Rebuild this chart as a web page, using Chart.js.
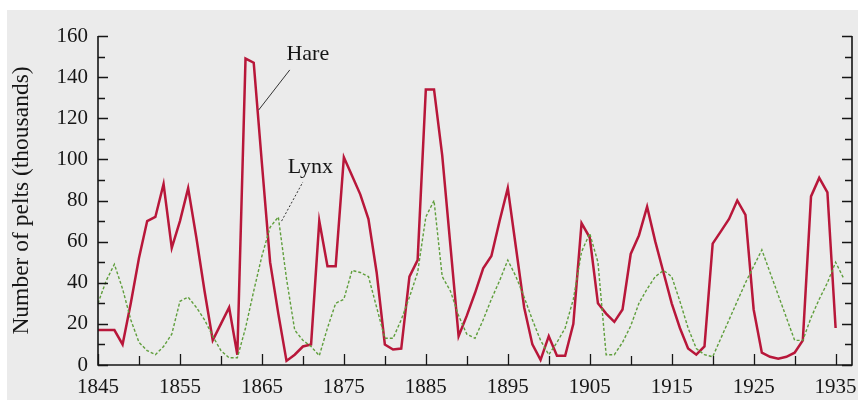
<!DOCTYPE html>
<html>
<head>
<meta charset="utf-8">
<script src="https://cdn.jsdelivr.net/npm/chart.js@4.4.0/dist/chart.umd.min.js"></script>
<style>
  html, body { margin: 0; padding: 0; background: #fff; }
  #wrap { position: absolute; left: 7px; top: 10px; width: 851px; height: 390px; background: #ebebeb; }
</style>
</head>
<body>
<div id="wrap"><canvas id="pelts"></canvas></div>
<script>
// Hudson's Bay Company pelt records, thousands
const years = [1845, 1846, 1847, 1848, 1849, 1850, 1851, 1852, 1853, 1854,
    1855, 1856, 1857, 1858, 1859, 1860, 1861, 1862, 1863, 1864,
    1865, 1866, 1867, 1868, 1869, 1870, 1871, 1872, 1873, 1874,
    1875, 1876, 1877, 1878, 1879, 1880, 1881, 1882, 1883, 1884,
    1885, 1886, 1887, 1888, 1889, 1890, 1891, 1892, 1893, 1894,
    1895, 1896, 1897, 1898, 1899, 1900, 1901, 1902, 1903, 1904,
    1905, 1906, 1907, 1908, 1909, 1910, 1911, 1912, 1913, 1914,
    1915, 1916, 1917, 1918, 1919, 1920, 1921, 1922, 1923, 1924,
    1925, 1926, 1927, 1928, 1929, 1930, 1931, 1932, 1933, 1934,
    1935, 1936];

const hare = [17, 17, 17, 10, 30, 52, 70, 72, 88, 57,
    70, 86, 62, 36, 12, 20, 28, 5, 149, 147,
    98, 50, 25, 2, 5, 9, 10, 70, 48, 48,
    101, 92, 83, 71, 45, 10, 7.5, 8, 43, 51,
    134, 134, 102, 58, 14, 24, 35, 47, 53, 70,
    86, 57, 28, 10, 2.5, 14, 4.5, 4.5, 20, 69,
    62, 30, 25, 21, 27, 54, 63, 77, 60, 45,
    30, 18, 8, 5, 9, 59, 65, 71, 80, 73,
    27, 6, 4, 3, 4, 6, 12, 82, 91, 84,
    18];

const lynx = [30, 41, 49, 37, 22, 11, 7, 5, 9, 15,
    31, 33, 28, 22, 14, 7, 3.5, 3.5, 18, 36,
    53, 67, 72, 42, 17, 12, 9, 4.5, 18, 30,
    32, 46, 45, 43, 28, 13, 13, 22, 33, 45,
    72, 80, 43, 36, 24, 15, 13, 22, 32, 41,
    51, 43, 33, 22, 12, 5, 11, 18, 32, 55,
    64, 50, 5, 5, 11, 19, 30, 37, 43, 46,
    43, 31, 18, 8, 5, 4, 13, 22, 31, 40,
    48, 56, 45, 34, 23, 12, 12, 23, 32, 40,
    50, 42];

const xTicks = [1845, 1855, 1865, 1875, 1885, 1895, 1905, 1915, 1925, 1935];
const yTicks = [0, 20, 40, 60, 80, 100, 120, 140, 160];

const serif = '"Liberation Serif", "Times New Roman", serif';
const ink = '#161616';

// axis frame with inward tick marks, as in the printed figure
const frame = {
    id: 'frame',
    afterDatasetsDraw(chart) {
        const { ctx, chartArea: a, scales: { x, y } } = chart;
        ctx.save();
        ctx.strokeStyle = ink;
        ctx.lineWidth = 1.6;
        ctx.beginPath();
        ctx.moveTo(a.left, a.top);
        ctx.lineTo(a.left, a.bottom);
        ctx.lineTo(a.right, a.bottom);
        ctx.lineTo(a.right, a.top);
        ctx.stroke();

        ctx.lineWidth = 1.3;
        ctx.beginPath();
        for (let v = 0; v <= 160; v += 10) {
            const py = Math.round(y.getPixelForValue(v)) + 0.5;
            const len = v % 20 === 0 ? 10 : 7;
            ctx.moveTo(a.left, py); ctx.lineTo(a.left + len, py);
            ctx.moveTo(a.right, py); ctx.lineTo(a.right - len, py);
        }
        for (let yr = 1845; yr <= 1935; yr += 5) {
            const px = Math.round(x.getPixelForValue(yr)) + 0.5;
            const len = (yr - 1845) % 10 === 0 ? 11 : 9;
            ctx.moveTo(px, a.bottom); ctx.lineTo(px, a.bottom - len);
        }
        ctx.stroke();
        ctx.restore();
    }
};

// series names with leader lines
const labels = {
    id: 'labels',
    afterDatasetsDraw(chart) {
        const { ctx, scales: { x, y } } = chart;
        ctx.save();
        ctx.strokeStyle = '#333';
        ctx.lineWidth = 1;
        ctx.beginPath();
        ctx.moveTo(x.getPixelForValue(1864.6), y.getPixelForValue(124));
        ctx.lineTo(x.getPixelForValue(1868.4), y.getPixelForValue(143.5));
        ctx.stroke();
        ctx.setLineDash([2, 2]);
        ctx.beginPath();
        ctx.moveTo(x.getPixelForValue(1867.4), y.getPixelForValue(70));
        ctx.lineTo(x.getPixelForValue(1870), y.getPixelForValue(89));
        ctx.stroke();
        ctx.setLineDash([]);

        ctx.fillStyle = ink;
        ctx.font = '22px ' + serif;
        ctx.textAlign = 'center';
        ctx.textBaseline = 'middle';
        ctx.fillText('Hare', x.getPixelForValue(1870.6), y.getPixelForValue(151));
        ctx.fillText('Lynx', x.getPixelForValue(1870.9), y.getPixelForValue(96));
        ctx.restore();
    }
};

const ctx = document.getElementById('pelts').getContext('2d');
new Chart(ctx, {
    type: 'line',
    data: {
        datasets: [
            {
                label: 'Lynx',
                data: years.map((yr, i) => ({ x: yr, y: lynx[i] })),
                borderColor: '#5f9e3c',
                borderWidth: 1.4,
                borderDash: [3, 2],
                pointRadius: 0,
                tension: 0,
                fill: false
            },
            {
                label: 'Hare',
                data: hare.map((v, i) => ({ x: years[i], y: v })),
                borderColor: '#b8173a',
                borderWidth: 2.5,
                pointRadius: 0,
                tension: 0,
                fill: false
            }
        ]
    },
    options: {
        responsive: true,
        maintainAspectRatio: false,
        animation: false,
        events: [],
        layout: { padding: { top: 26, right: 6, left: 0, bottom: 0 } },
        plugins: {
            legend: { display: false },
            tooltip: { enabled: false }
        },
        scales: {
            x: {
                type: 'linear',
                min: 1845,
                max: 1937,
                grid: { display: false, drawTicks: false },
                border: { display: false },
                afterBuildTicks: s => { s.ticks = xTicks.map(v => ({ value: v })); },
                afterFit: s => { s.height = 35; s.paddingLeft = 0; s.paddingRight = 0; },
                ticks: {
                    color: ink,
                    font: { family: serif, size: 21 },
                    padding: 10,
                    maxRotation: 0,
                    autoSkip: false,
                    callback: v => String(v)
                }
            },
            y: {
                min: 0,
                max: 160,
                grid: { display: false, drawTicks: false },
                border: { display: false },
                afterBuildTicks: s => { s.ticks = yTicks.map(v => ({ value: v })); },
                afterFit: s => { s.width = 91; s.paddingTop = 0; s.paddingBottom = 0; },
                ticks: {
                    color: ink,
                    font: { family: serif, size: 21 },
                    padding: 10
                },
                title: {
                    display: true,
                    text: 'Number of pelts (thousands)',
                    color: ink,
                    font: { family: serif, size: 23.5 },
                    padding: { top: 1, bottom: 0 }
                }
            }
        }
    },
    plugins: [frame, labels]
});
</script>
</body>
</html>
